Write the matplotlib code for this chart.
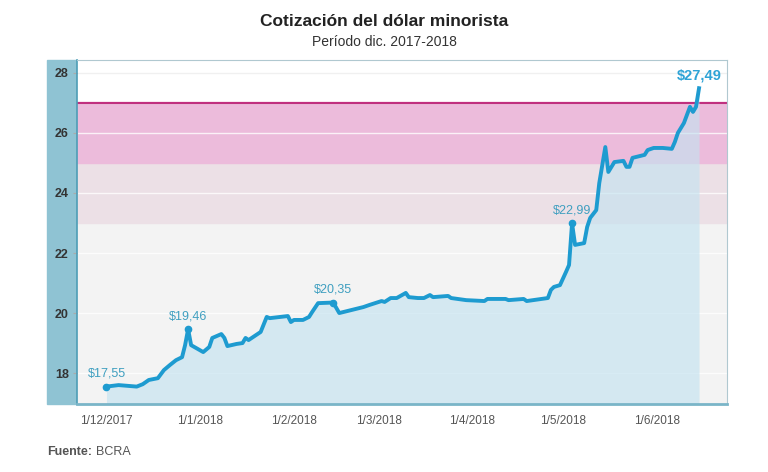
import pandas as pd
import matplotlib.pyplot as plt
from matplotlib.patches import Rectangle

plt.rcParams['font.family'] = ['Liberation Sans', 'DejaVu Sans']

fechas = ['2017-12-01', '2017-12-05', '2017-12-11', '2017-12-13', '2017-12-15', '2017-12-18',
          '2017-12-20', '2017-12-22', '2017-12-24', '2017-12-26', '2017-12-27', '2017-12-28',
          '2017-12-29', '2018-01-02', '2018-01-04', '2018-01-05', '2018-01-08', '2018-01-09',
          '2018-01-10', '2018-01-13', '2018-01-15', '2018-01-16', '2018-01-17', '2018-01-21',
          '2018-01-23', '2018-01-24', '2018-01-30', '2018-01-31', '2018-02-01', '2018-02-04',
          '2018-02-06', '2018-02-07', '2018-02-09', '2018-02-14', '2018-02-16', '2018-02-20',
          '2018-02-24', '2018-02-26', '2018-03-02', '2018-03-03', '2018-03-05', '2018-03-07',
          '2018-03-10', '2018-03-11', '2018-03-14', '2018-03-16', '2018-03-18', '2018-03-19',
          '2018-03-24', '2018-03-25', '2018-03-30', '2018-04-05', '2018-04-06', '2018-04-12',
          '2018-04-13', '2018-04-18', '2018-04-19', '2018-04-26', '2018-04-27', '2018-04-28',
          '2018-04-30', '2018-05-02', '2018-05-03', '2018-05-04', '2018-05-05', '2018-05-08',
          '2018-05-09', '2018-05-10', '2018-05-12', '2018-05-13', '2018-05-15', '2018-05-16',
          '2018-05-18', '2018-05-21', '2018-05-22', '2018-05-23', '2018-05-24', '2018-05-28',
          '2018-05-29', '2018-05-31', '2018-06-03', '2018-06-06', '2018-06-07', '2018-06-08',
          '2018-06-10', '2018-06-11', '2018-06-12', '2018-06-13', '2018-06-14', '2018-06-15']
cotizacion = [17.55, 17.60, 17.55, 17.63, 17.77, 17.83,
              18.10, 18.27, 18.43, 18.53, 18.93, 19.46,
              18.93, 18.70, 18.87, 19.17, 19.30, 19.17,
              18.90, 18.97, 19.00, 19.17, 19.10, 19.37,
              19.87, 19.83, 19.90, 19.70, 19.77, 19.77,
              19.87, 20.03, 20.33, 20.35, 20.00, 20.10,
              20.20, 20.27, 20.40, 20.37, 20.50, 20.50,
              20.67, 20.53, 20.50, 20.50, 20.60, 20.53,
              20.57, 20.50, 20.43, 20.40, 20.47, 20.47,
              20.43, 20.47, 20.40, 20.50, 20.77, 20.87,
              20.93, 21.37, 21.60, 22.99, 22.27, 22.33,
              22.87, 23.17, 23.43, 24.33, 25.53, 24.70,
              25.03, 25.07, 24.87, 24.87, 25.17, 25.27,
              25.43, 25.50, 25.50, 25.47, 25.70, 26.00,
              26.33, 26.60, 26.87, 26.70, 26.87, 27.49]

destacados = ['2017-12-01', '2017-12-28', '2018-02-14', '2018-05-04', '2018-06-15']
etiquetas = ['$17,55', '$19,46', '$20,35', '$22,99', '$27,49']

ticks_x = ['2017-12-01', '2018-01-01', '2018-02-01', '2018-03-01', '2018-04-01', '2018-05-01', '2018-06-01']
ticks_x_labels = ['1/12/2017', '1/1/2018', '1/2/2018', '1/3/2018', '1/4/2018', '1/5/2018', '1/6/2018']

df = pd.DataFrame({'fecha': pd.to_datetime(fechas), 'valor': cotizacion})

fig = plt.figure(figsize=(7.68, 4.72), dpi=100)
ax = fig.add_axes([77/768, 1 - 404/472, 650/768, 344/472])
ax.set_zorder(2)

# franja azul a la izquierda con los valores del eje
fig.patches.append(Rectangle((47/768, 1 - 404/472), 30/768, 344/472,
                             transform=fig.transFigure, color='#8fc3d3', zorder=-1))

ax.set_ylim(16.97, 28.43)
ax.set_xlim(pd.Timestamp('2017-11-21 06:00'), pd.Timestamp('2018-06-24 06:00'))

# bandas de fondo
ax.axhspan(16.97, 23, color='#f3f3f3', zorder=0)
ax.axhspan(23, 25, color='#ece0e6', zorder=0)
ax.axhspan(25, 27, color='#ecbbdb', zorder=0)
ax.axhspan(27, 28.43, color='white', zorder=0)
for y in [18, 20, 22, 24, 26, 28]:
    ax.axhline(y, color='white', lw=1, alpha=0.8, zorder=1)
ax.axhline(28, color='#f0f0f0', lw=1, zorder=1)
ax.axhline(27, color='#c0307f', lw=1.6, zorder=2)

ax.fill_between(df['fecha'], 16.97, df['valor'], color='#c4e3f0', alpha=0.65, lw=0, zorder=3)
ax.plot(df['fecha'], df['valor'], color='#1e9bd0', lw=2.8, solid_joinstyle='round', zorder=4)

d_dest = pd.to_datetime(destacados)
v_dest = df.set_index('fecha').loc[d_dest, 'valor']
ax.plot(d_dest[:-1], v_dest.values[:-1], 'o', color='#1e9bd0', ms=4.5, zorder=5)
for d, v, t in zip(d_dest[:-1], v_dest.values[:-1], etiquetas[:-1]):
    ax.annotate(t, (d, v), xytext=(0, 5), textcoords='offset points', ha='center',
                va='bottom', fontsize=9, color='#3f9fc0', zorder=6)
ax.annotate(etiquetas[-1], (d_dest[-1], v_dest.values[-1]), xytext=(0, 4), textcoords='offset points',
            ha='center', va='bottom', fontsize=10.5, fontweight='bold', color='#2ea3d6', zorder=6)

ax.set_yticks([18, 20, 22, 24, 26, 28])
ax.set_yticklabels(['18', '20', '22', '24', '26', '28'], fontsize=9, fontweight='bold', color='#333333')
ax.set_xticks(pd.to_datetime(ticks_x))
ax.set_xticklabels(ticks_x_labels, fontsize=8.5, color='#555555')
ax.tick_params(axis='y', length=3, color='#aaaaaa', pad=3)
ax.tick_params(axis='x', length=0, pad=8)

for s in ['top', 'right']:
    ax.spines[s].set_color('#b0c8d0')
    ax.spines[s].set_linewidth(0.8)
ax.spines['left'].set_color('#4d9db6')
ax.spines['left'].set_linewidth(1.2)
ax.spines['bottom'].set_color('#7ab5c8')
ax.spines['bottom'].set_linewidth(2)
for sp in ax.spines.values():
    sp.set_zorder(7)

fig.text(0.5, 1 - 22/472, 'Cotización del dólar minorista', ha='center', va='center',
         fontsize=12.5, fontweight='bold', color='#222222')
fig.text(0.5, 1 - 42/472, 'Período dic. 2017-2018', ha='center', va='center',
         fontsize=10, color='#333333')
fuente = fig.text(47/768, 1 - 452/472, 'Fuente:', ha='left', va='center', fontsize=9,
                  fontweight='bold', color='#555555')
ax.annotate('BCRA', xy=(1, 0.5), xycoords=fuente, xytext=(3, 0), textcoords='offset points',
            ha='left', va='center', fontsize=9, color='#555555', annotation_clip=False)

fig.savefig('out.png', dpi=100)
